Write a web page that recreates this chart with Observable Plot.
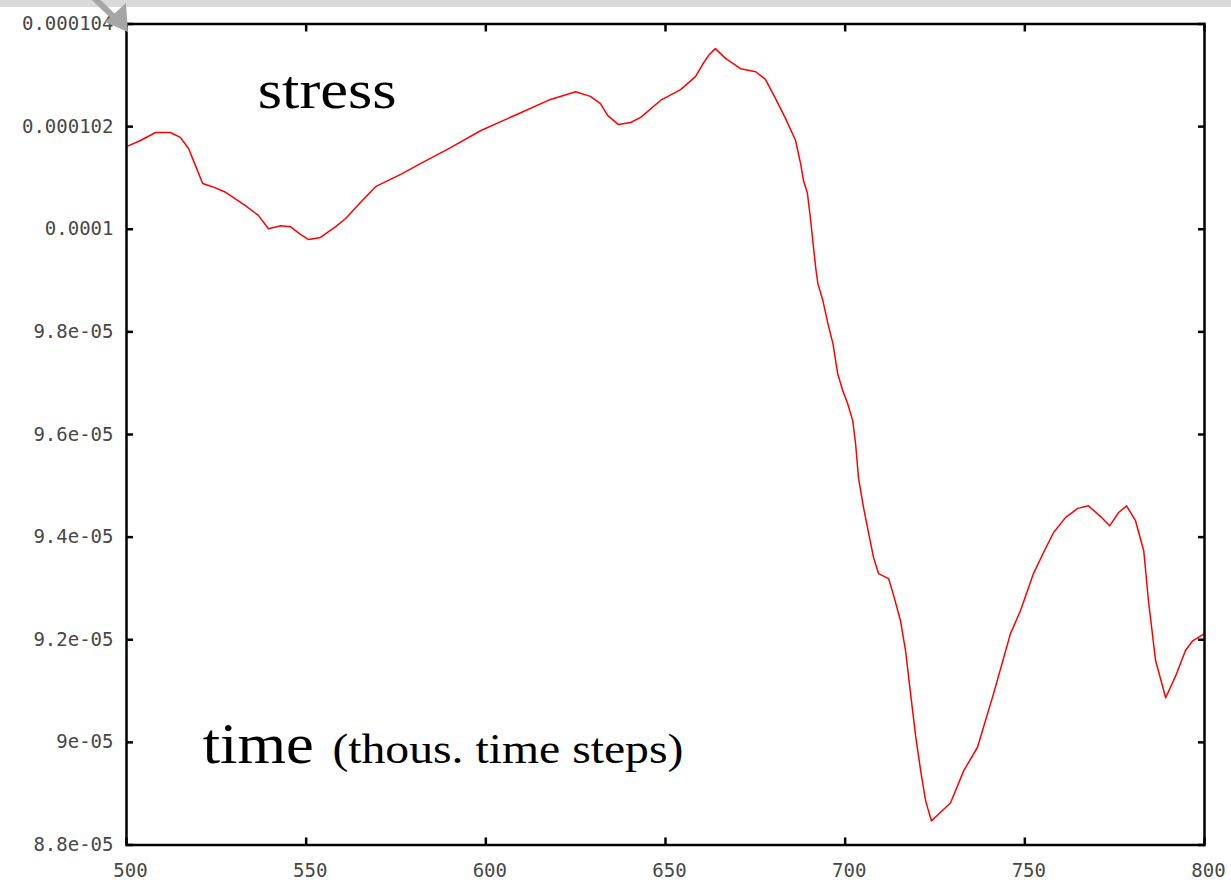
<!DOCTYPE html>
<html><head><meta charset="utf-8">
<script src="https://cdn.jsdelivr.net/npm/d3@7"></script>
<script src="https://cdn.jsdelivr.net/npm/@observablehq/plot@0.6"></script>
<style>
html,body{margin:0;padding:0;background:#fff;}
#wrap{position:relative;width:1231px;height:885px;overflow:hidden;}
#topbar{position:absolute;left:0;top:0;width:1231px;height:7px;background:#d9d9d9;}
#arrow{position:absolute;left:0;top:0;}
</style></head><body>
<div id="wrap"><div id="chart"></div><div id="topbar"></div>
<svg id="arrow" width="140" height="40"><line x1="90" y1="-6" x2="117" y2="20" stroke="#a6a6a6" stroke-width="6"/><polygon points="105,22 126,3 128,32" fill="#a6a6a6"/></svg>
</div>
<script>
// time (thousand time steps)
const time = [500,503.9,508.1,512.2,515.0,517.3,519.2,521.2,523.9,527.6,533.1,536.7,539.5,542.9,545.6,548.4,550.7,554.0,558.2,561.0,565.1,569.3,576.3,581.8,590.2,598.5,609.7,618.0,625.0,629.1,631.9,633.9,636.9,640.3,643.1,648.6,654.2,658.4,660.3,662.0,663.9,666.7,670.9,675.1,677.8,680.6,683.4,686.2,687.6,688.4,689.5,690.4,691.2,691.8,692.4,693.8,695.2,696.6,697.9,699.3,700.7,702.1,702.9,703.7,705.1,706.2,707.9,709.3,712.1,713.5,715.4,716.8,718.2,719.6,721.0,722.4,724.0,725.2,729.3,733.0,736.8,741.3,746.0,748.8,752.4,755.2,758.0,761.3,764.7,767.7,771.1,773.6,776.1,778.3,780.8,783.1,784.4,786.4,789.2,792.0,794.7,796.7,800];
// stress (units of 1e-6)
const stress = [101.61,101.73,101.885,101.885,101.79,101.57,101.24,100.89,100.83,100.72,100.46,100.27,100.01,100.07,100.05,99.90,99.80,99.84,100.05,100.21,100.52,100.83,101.07,101.28,101.59,101.92,102.27,102.53,102.68,102.59,102.45,102.22,102.04,102.08,102.18,102.51,102.72,102.98,103.21,103.39,103.52,103.33,103.13,103.07,102.92,102.55,102.16,101.73,101.28,100.95,100.70,100.17,99.64,99.25,98.94,98.61,98.16,97.77,97.19,96.86,96.60,96.27,95.82,95.16,94.58,94.19,93.60,93.29,93.19,92.86,92.37,91.79,90.95,90.13,89.45,88.86,88.47,88.55,88.82,89.45,89.90,90.95,92.12,92.57,93.29,93.70,94.09,94.38,94.56,94.61,94.40,94.22,94.48,94.61,94.32,93.73,92.76,91.59,90.87,91.30,91.79,91.98,92.12];

const xTicks = [500,550,600,650,700,750,800];
const xTickLabels = ["500","550","600","650","700","750","800"];
const yTicks = [8.8e-5,9.0e-5,9.2e-5,9.4e-5,9.6e-5,9.8e-5,1.0e-4,1.02e-4,1.04e-4];
const yTickLabels = ["8.8e-05","9e-05","9.2e-05","9.4e-05","9.6e-05","9.8e-05","0.0001","0.000102","0.000104"];

const annoText = ["stress","time","(thous. time steps)"];
const annoX = [536.5,521.2,557.3];
const annoY = [102.37e-6,89.60e-6,89.60e-6];

const data = time.map((t,i)=>({t, s: stress[i]*1e-6}));
const annos = annoText.map((text,i)=>({text, x: annoX[i], y: annoY[i]}));

const annoStyle = {
  "stress": {size: 54, len: 139},
  "time": {size: 56, len: 111},
  "(thous. time steps)": {size: 42, len: 351}
};

const xf = d => xTickLabels[xTicks.indexOf(d)];
const yf = d => yTickLabels[yTicks.indexOf(d)];

const annoMark = name => Plot.text(annos.filter(d=>d.text===name), {x:"x", y:"y", text:"text", textAnchor:"start", lineAnchor:"bottom", fontFamily:"Liberation Serif", fontSize: annoStyle[name].size, fill:"black"});

const svg = Plot.plot({
  width: 1231, height: 885,
  marginLeft: 126, marginRight: 27, marginTop: 23.5, marginBottom: 40.5,
  style: {fontFamily: "DejaVu Sans Mono", fontSize: "19px", color: "#474747", background: "white", overflow: "visible"},
  x: {domain: [500,800], label: null},
  y: {domain: [8.8e-5,1.04e-4], label: null},
  marks: [
    Plot.line(data, {x: "t", y: "s", stroke: "#ff0000", strokeWidth: 1.5}),
    annoMark("stress"),
    annoMark("time"),
    annoMark("(thous. time steps)"),
    // tick labels
    Plot.axisX({anchor:"bottom", ticks: xTicks, tickFormat: xf, tickSize: 0, tickPadding: 18, dx: 4}),
    Plot.axisY({anchor:"left", ticks: yTicks, tickFormat: yf, tickSize: 0, tickPadding: 13}),
    // inward ticks on all four sides
    Plot.axisX({anchor:"bottom", ticks: xTicks, tickFormat: () => "", tickSize: -7, strokeWidth: 2.5, stroke: "black"}),
    Plot.axisX({anchor:"top", ticks: xTicks, tickFormat: () => "", tickSize: -7, strokeWidth: 2.5, stroke: "black"}),
    Plot.axisY({anchor:"left", ticks: yTicks, tickFormat: () => "", tickSize: -7, strokeWidth: 2.5, stroke: "black"}),
    Plot.axisY({anchor:"right", ticks: yTicks, tickFormat: () => "", tickSize: -7, strokeWidth: 2.5, stroke: "black"}),
    Plot.frame({stroke: "black", strokeWidth: 2.5})
  ]
});

svg.querySelectorAll("text").forEach(t => {
  const s = annoStyle[t.textContent];
  if (s) { t.setAttribute("textLength", s.len); t.setAttribute("lengthAdjust", "spacingAndGlyphs"); }
});
document.getElementById("chart").appendChild(svg);
</script>
</body></html>
